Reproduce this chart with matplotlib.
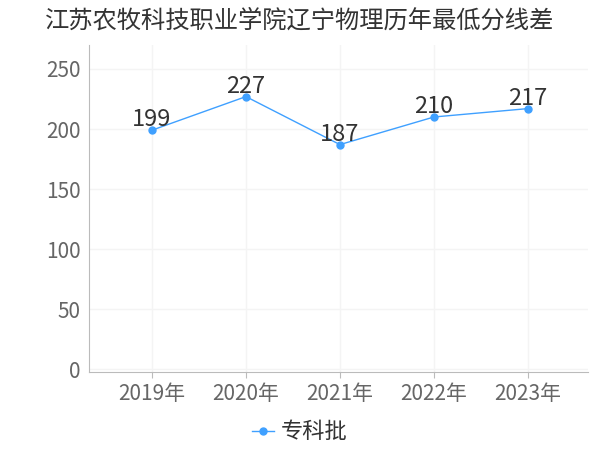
import matplotlib
matplotlib.use('Agg')
import matplotlib.pyplot as plt

plt.rcParams['font.family'] = ['Noto Sans CJK SC', 'DejaVu Sans']

years = ['2019年', '2020年', '2021年', '2022年', '2023年']
scores = [199, 227, 187, 210, 217]
series_name = '专科批'
title = '江苏农牧科技职业学院辽宁物理历年最低分线差'

color = '#3fa0ff'

fig = plt.figure(figsize=(6, 4.5), dpi=100)
ax = fig.add_axes([89/600, 78/450, 499/600, 327/450])

x = list(range(len(years)))
ax.plot(x, scores, color=color, linewidth=1, marker='o', markersize=5, label=series_name)
for xi, v in zip(x, scores):
    ax.text(xi, v - 1, str(v), ha='center', va='bottom', fontsize=17, color='#333333')

ax.set_xlim(-0.67, 4.64)
ax.set_ylim(-2.5, 270)
ax.set_yticks([0, 50, 100, 150, 200, 250])
ax.set_xticks(x)
ax.set_xticklabels(years)
ax.tick_params(axis='y', labelsize=15, colors='#666666', length=0, pad=6)
ax.tick_params(axis='x', labelsize=15, colors='#666666', length=4, color='#bbbbbb', pad=4)

ax.grid(True, color='#f4f4f4', linewidth=1)
ax.set_axisbelow(True)
for s in ['top', 'right']:
    ax.spines[s].set_visible(False)
for s in ['left', 'bottom']:
    ax.spines[s].set_color('#bbbbbb')

fig.text(0.5, 0.955, title, ha='center', va='center', fontsize=17.5, color='#333333')
fig.legend(loc='center', bbox_to_anchor=(0.5, 0.04), frameon=False, fontsize=16,
           handlelength=1.0, handletextpad=0.3, labelcolor='#333333')

fig.savefig('out.png', dpi=100)
